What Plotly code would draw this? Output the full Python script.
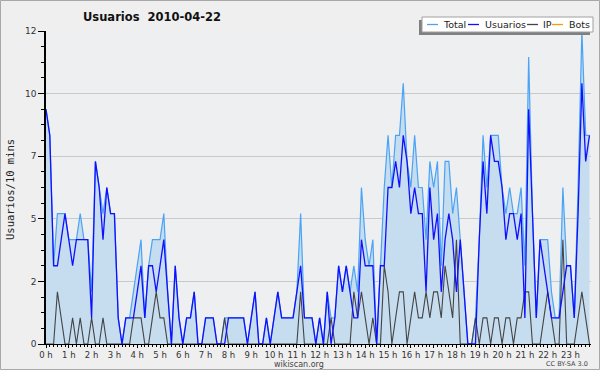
import plotly.graph_objects as go

# 10-minute slots over the day (144 values)
usuarios = [9, 8, 3, 3, 4, 5, 4, 3, 4, 4, 4, 4, 1, 7, 6, 4, 6, 5, 5, 1, 0, 1, 1, 1,
            2, 3, 1, 3, 3, 2, 3, 4, 2, 0, 3, 1, 0, 1, 1, 2, 0, 0, 1, 1, 1, 0, 0, 0,
            1, 1, 1, 1, 1, 0, 1, 2, 0, 0, 1, 0, 1, 2, 1, 1, 1, 1, 2, 3, 1, 1, 1, 0,
            1, 0, 2, 0, 1, 3, 2, 3, 2, 1, 1, 4, 3, 3, 3, 0, 3, 3, 6, 6, 7, 6, 8, 7,
            5, 6, 5, 5, 2, 6, 4, 5, 2, 4, 5, 4, 2, 4, 2, 0, 0, 0, 4, 7, 5, 8, 7, 7,
            6, 4, 5, 5, 4, 5, 1, 9, 5, 1, 4, 3, 2, 1, 1, 1, 2, 3, 3, 1, 5, 10, 7, 8]
ip = [0, 0, 0, 2, 1, 0, 0, 1, 0, 1, 0, 0, 1, 0, 0, 1, 0, 0, 0, 0, 0, 0, 0, 1,
      1, 1, 0, 0, 1, 2, 1, 1, 0, 0, 0, 0, 0, 0, 0, 0, 0, 0, 0, 0, 0, 0, 0, 1,
      0, 0, 0, 0, 0, 0, 0, 0, 0, 0, 0, 0, 0, 0, 0, 0, 0, 0, 0, 2, 0, 0, 0, 0,
      0, 0, 0, 1, 0, 0, 0, 0, 0, 2, 1, 2, 1, 0, 1, 0, 0, 3, 2, 0, 1, 2, 2, 0,
      1, 2, 1, 1, 2, 1, 2, 2, 1, 3, 2, 1, 4, 0, 0, 0, 0, 1, 0, 1, 1, 0, 1, 1,
      0, 1, 1, 0, 1, 1, 2, 2, 0, 0, 0, 1, 2, 1, 0, 0, 4, 0, 0, 0, 1, 2, 1, 0]
total = [9, 8, 3, 5, 5, 5, 4, 4, 4, 5, 4, 4, 2, 7, 6, 5, 6, 5, 5, 1, 0, 1, 1, 2,
         3, 4, 1, 3, 4, 4, 4, 5, 2, 0, 3, 1, 0, 1, 1, 2, 0, 0, 1, 1, 1, 0, 0, 1,
         1, 1, 1, 1, 1, 0, 1, 2, 0, 0, 1, 0, 1, 2, 1, 1, 1, 1, 2, 5, 1, 1, 1, 0,
         1, 0, 2, 1, 1, 3, 2, 3, 2, 3, 2, 6, 4, 3, 4, 0, 3, 6, 8, 6, 8, 8, 10, 7,
         6, 8, 6, 6, 4, 7, 6, 7, 3, 7, 7, 5, 6, 4, 2, 0, 0, 1, 4, 8, 6, 8, 8, 8,
         6, 5, 6, 5, 5, 6, 3, 11, 5, 1, 4, 4, 4, 2, 1, 1, 6, 3, 3, 1, 6, 12, 8, 8]
bots = []
hours = list(range(24))
hour_labels = [f"{h} h" for h in hours]
y_tickvals = [0, 2.4, 4.8, 7.2, 9.6, 12]
y_ticklabels = ["0", "2", "5", "7", "10", "12"]

x = [i / 6 for i in range(len(total))]

FONT = "DejaVu Sans"
L, R, T, B = 46, 591, 31, 344
W, H = 600, 370


def px(xp):
    return (xp - L) / (R - L)


def py(yp):
    return (B - yp) / (B - T)


fig = go.Figure()
fig.add_trace(go.Scatter(x=x, y=total, mode="lines", name="Total",
                         line=dict(color="#4aa3f5", width=1.2),
                         fill="tozeroy", fillcolor="#c6dcef", showlegend=False))
fig.add_trace(go.Scatter(x=x, y=ip, mode="lines", name="IP",
                         line=dict(color="#444444", width=1.1), showlegend=False))
fig.add_trace(go.Scatter(x=x, y=usuarios, mode="lines", name="Usuarios",
                         line=dict(color="#1010ff", width=1.3), showlegend=False))
fig.add_trace(go.Scatter(x=[], y=bots, mode="lines", name="Bots",
                         line=dict(color="#ff9900", width=1.2), showlegend=False))

shapes = []
annotations = []
# outer frame
shapes.append(dict(type="rect", xref="paper", yref="paper",
                   x0=px(0.5), x1=px(W - 0.5), y0=py(0.5), y1=py(H - 0.5),
                   line=dict(color="#a8a8a8", width=1), fillcolor="rgba(0,0,0,0)", layer="below"))
# legend shadow + box
shapes.append(dict(type="rect", xref="paper", yref="paper",
                   x0=px(419), x1=px(590), y0=py(35), y1=py(20),
                   line=dict(width=0), fillcolor="#808080"))
shapes.append(dict(type="rect", xref="paper", yref="paper",
                   x0=px(422), x1=px(593), y0=py(32), y1=py(17),
                   line=dict(color="#a0a0a0", width=1), fillcolor="#ffffff"))
legend_items = [("Total", "#4aa3f5", 427, 441), ("Usuarios", "#1010ff", 468, 483),
                ("IP", "#444444", 527, 541), ("Bots", "#ff9900", 552, 567)]
for name, col, lx, tx in legend_items:
    shapes.append(dict(type="line", xref="paper", yref="paper",
                       x0=px(lx), x1=px(lx + 11), y0=py(24.5), y1=py(24.5),
                       line=dict(color=col, width=1.3)))
    annotations.append(dict(text=name, xref="paper", yref="paper", x=px(tx), y=py(24.5),
                            xanchor="left", yanchor="middle", showarrow=False,
                            font=dict(family=FONT, size=9.5, color="#222")))

annotations += [
    dict(text="<b>Usuarios\u00a0\u00a02010-04-22</b>", xref="paper", yref="paper",
         x=px(152), y=py(17), xanchor="center", yanchor="middle", showarrow=False,
         font=dict(family=FONT, size=11.5, color="#111")),
    dict(text="Usuarios/10 mins", xref="paper", yref="paper", x=px(10), y=py(190),
         xanchor="center", yanchor="middle", textangle=-90, showarrow=False,
         font=dict(family="DejaVu Sans Mono", size=10.5, color="#222")),
    dict(text="wikiscan.org", xref="paper", yref="paper", x=px(299), y=py(364),
         xanchor="center", yanchor="middle", showarrow=False,
         font=dict(family=FONT, size=8, color="#444")),
    dict(text="CC BY-SA 3.0", xref="paper", yref="paper", x=px(590), y=py(364),
         xanchor="right", yanchor="middle", showarrow=False,
         font=dict(family=FONT, size=6.5, color="#444")),
]

fig.update_layout(
    width=W, height=H,
    margin=dict(l=L, r=W - R, t=T, b=H - B, pad=0),
    paper_bgcolor="#efefef", plot_bgcolor="#eeeff1",
    showlegend=False,
    shapes=shapes, annotations=annotations,
    xaxis=dict(range=[0, 23.9], tickmode="array", tickvals=hours, ticktext=hour_labels,
               ticks="outside", ticklen=3, tickcolor="#000", tickwidth=1,
               minor=dict(dtick=1 / 6, tick0=0, ticks="outside", ticklen=2, tickcolor="#000"),
               showline=True, linecolor="#000", linewidth=1, showgrid=False, zeroline=False,
               tickfont=dict(family=FONT, size=8.5, color="#333"), fixedrange=True),
    yaxis=dict(range=[0, 12], tickmode="array", tickvals=y_tickvals, ticktext=y_ticklabels,
               ticks="outside", ticklen=6, tickcolor="#000", tickwidth=1,
               minor=dict(dtick=0.6, tick0=0, ticks="outside", ticklen=3, tickcolor="#000",
                          showgrid=False),
               showline=True, linecolor="#000", linewidth=1.5,
               showgrid=True, gridcolor="#c9c9cc", gridwidth=1, zeroline=False,
               tickfont=dict(family=FONT, size=9, color="#333"), fixedrange=True),
)

fig.write_html("out.html", config={"displayModeBar": False})

with open("out.html", "r", encoding="utf-8") as f:
    page = f.read()
page = page.replace("<head>", "<head><style>html,body{margin:0;padding:0;overflow:hidden;}</style>", 1)
with open("out.html", "w", encoding="utf-8") as f:
    f.write(page)
